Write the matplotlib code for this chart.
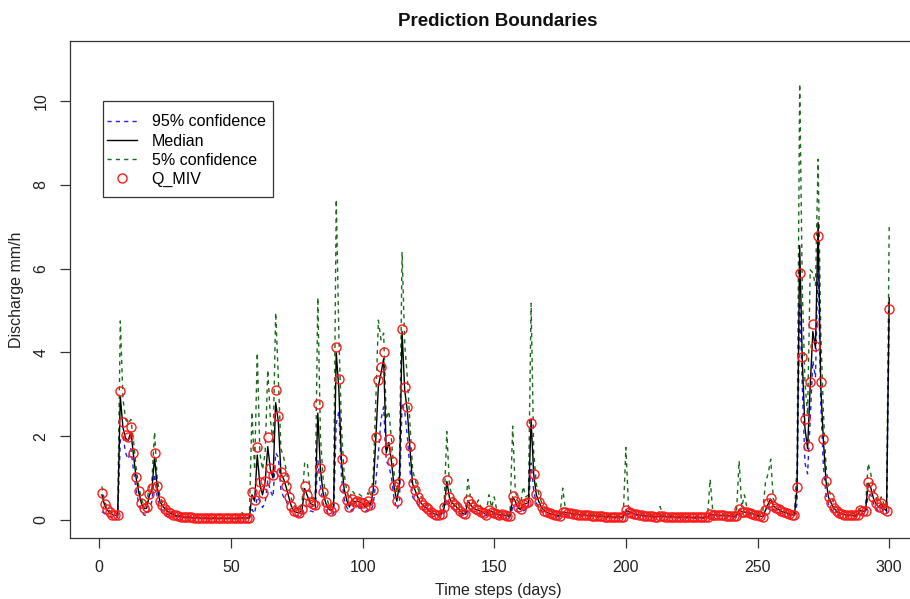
import numpy as np
import matplotlib
matplotlib.use("Agg")
import matplotlib.pyplot as plt
from matplotlib.patches import Rectangle

plt.rcParams['font.family'] = ['Liberation Sans', 'DejaVu Sans']

# observed discharge Q_MIV, days 1..300
q_miv = [
    0.65, 0.38, 0.25, 0.18, 0.13, 0.11, 0.12, 3.09, 2.35, 2.03,
    1.98, 2.21, 1.61, 1.03, 0.68, 0.41, 0.28, 0.30, 0.63, 0.77,
    1.59, 0.80, 0.46, 0.35, 0.26, 0.20, 0.16, 0.13, 0.11, 0.09,
    0.08, 0.07, 0.07, 0.06, 0.06, 0.05, 0.05, 0.05, 0.05, 0.04,
    0.04, 0.04, 0.04, 0.04, 0.04, 0.04, 0.04, 0.04, 0.04, 0.04,
    0.04, 0.04, 0.04, 0.05, 0.05, 0.05, 0.04, 0.66, 0.48, 1.73,
    0.91, 0.64, 0.93, 1.99, 1.25, 1.07, 3.10, 2.47, 1.14, 1.02,
    0.80, 0.56, 0.33, 0.22, 0.18, 0.17, 0.25, 0.80, 0.60, 0.42,
    0.37, 0.35, 2.77, 1.23, 0.67, 0.42, 0.27, 0.22, 0.32, 4.12,
    3.36, 1.45, 0.76, 0.48, 0.31, 0.50, 0.44, 0.46, 0.44, 0.40,
    0.31, 0.46, 0.36, 0.71, 1.99, 3.34, 3.64, 4.02, 1.67, 1.93,
    1.41, 0.80, 0.46, 0.88, 4.55, 3.18, 2.70, 1.77, 0.88, 0.72,
    0.55, 0.43, 0.36, 0.30, 0.25, 0.18, 0.15, 0.13, 0.12, 0.14,
    0.30, 0.95, 0.54, 0.42, 0.36, 0.30, 0.22, 0.16, 0.14, 0.48,
    0.37, 0.30, 0.25, 0.24, 0.20, 0.17, 0.13, 0.24, 0.20, 0.17,
    0.14, 0.12, 0.14, 0.11, 0.10, 0.09, 0.58, 0.46, 0.30, 0.25,
    0.38, 0.40, 0.42, 2.32, 1.10, 0.61, 0.44, 0.30, 0.22, 0.18,
    0.16, 0.14, 0.12, 0.11, 0.10, 0.20, 0.18, 0.17, 0.16, 0.15,
    0.14, 0.13, 0.12, 0.12, 0.11, 0.11, 0.10, 0.10, 0.09, 0.09,
    0.09, 0.08, 0.08, 0.08, 0.07, 0.07, 0.07, 0.07, 0.07, 0.23,
    0.20, 0.17, 0.15, 0.14, 0.12, 0.11, 0.10, 0.10, 0.09, 0.09,
    0.08, 0.08, 0.10, 0.09, 0.08, 0.08, 0.08, 0.07, 0.07, 0.07,
    0.07, 0.07, 0.07, 0.06, 0.06, 0.06, 0.06, 0.06, 0.06, 0.06,
    0.06, 0.14, 0.13, 0.12, 0.12, 0.11, 0.11, 0.10, 0.10, 0.09,
    0.09, 0.10, 0.25, 0.20, 0.19, 0.18, 0.17, 0.15, 0.13, 0.11,
    0.09, 0.08, 0.24, 0.40, 0.52, 0.34, 0.28, 0.25, 0.21, 0.19,
    0.17, 0.15, 0.13, 0.11, 0.78, 5.89, 3.88, 2.40, 1.77, 3.30,
    4.67, 4.15, 6.78, 3.30, 1.93, 0.94, 0.54, 0.40, 0.28, 0.21,
    0.17, 0.15, 0.13, 0.12, 0.12, 0.11, 0.11, 0.12, 0.24, 0.21,
    0.21, 0.91, 0.79, 0.54, 0.40, 0.30, 0.41, 0.27, 0.22, 5.03,
]

# simulated median
median = [
    0.60, 0.36, 0.24, 0.17, 0.13, 0.11, 0.12, 2.95, 2.20, 1.95,
    1.90, 2.10, 1.55, 1.00, 0.66, 0.40, 0.27, 0.28, 0.58, 0.72,
    1.50, 0.78, 0.45, 0.34, 0.26, 0.20, 0.16, 0.13, 0.11, 0.09,
    0.08, 0.07, 0.07, 0.06, 0.06, 0.05, 0.05, 0.05, 0.05, 0.04,
    0.04, 0.04, 0.04, 0.04, 0.04, 0.04, 0.04, 0.04, 0.04, 0.04,
    0.04, 0.04, 0.04, 0.05, 0.05, 0.05, 0.04, 0.60, 0.45, 1.55,
    0.85, 0.60, 0.90, 1.75, 1.20, 1.00, 2.80, 2.35, 1.10, 0.98,
    0.78, 0.54, 0.32, 0.21, 0.18, 0.17, 0.24, 0.75, 0.58, 0.41,
    0.36, 0.34, 2.55, 1.20, 0.65, 0.41, 0.27, 0.22, 0.31, 4.00,
    3.10, 1.40, 0.74, 0.47, 0.31, 0.48, 0.43, 0.45, 0.43, 0.39,
    0.31, 0.45, 0.35, 0.68, 1.90, 3.20, 3.50, 3.85, 1.60, 1.85,
    1.38, 0.78, 0.45, 0.85, 4.50, 3.10, 2.60, 1.70, 0.86, 0.70,
    0.54, 0.42, 0.35, 0.30, 0.25, 0.18, 0.15, 0.13, 0.12, 0.14,
    0.29, 0.92, 0.53, 0.41, 0.35, 0.29, 0.22, 0.16, 0.14, 0.46,
    0.36, 0.29, 0.25, 0.23, 0.20, 0.17, 0.13, 0.23, 0.20, 0.17,
    0.14, 0.12, 0.14, 0.11, 0.10, 0.09, 0.55, 0.45, 0.29, 0.25,
    0.37, 0.39, 0.41, 2.40, 1.08, 0.60, 0.43, 0.30, 0.22, 0.18,
    0.16, 0.14, 0.12, 0.11, 0.10, 0.19, 0.18, 0.17, 0.16, 0.15,
    0.14, 0.13, 0.12, 0.12, 0.11, 0.11, 0.10, 0.10, 0.09, 0.09,
    0.09, 0.08, 0.08, 0.08, 0.07, 0.07, 0.07, 0.07, 0.07, 0.22,
    0.20, 0.17, 0.15, 0.14, 0.12, 0.11, 0.10, 0.10, 0.09, 0.09,
    0.08, 0.08, 0.10, 0.09, 0.08, 0.08, 0.08, 0.07, 0.07, 0.07,
    0.07, 0.07, 0.07, 0.06, 0.06, 0.06, 0.06, 0.06, 0.06, 0.06,
    0.06, 0.14, 0.13, 0.12, 0.12, 0.11, 0.11, 0.10, 0.10, 0.09,
    0.09, 0.10, 0.24, 0.20, 0.19, 0.18, 0.17, 0.15, 0.13, 0.11,
    0.09, 0.08, 0.23, 0.38, 0.50, 0.34, 0.28, 0.25, 0.21, 0.19,
    0.17, 0.15, 0.13, 0.11, 0.75, 6.55, 3.80, 2.20, 1.70, 3.20,
    4.50, 4.10, 7.10, 3.20, 1.90, 0.92, 0.53, 0.40, 0.28, 0.21,
    0.17, 0.15, 0.13, 0.12, 0.12, 0.11, 0.11, 0.12, 0.23, 0.21,
    0.21, 0.88, 0.77, 0.52, 0.39, 0.30, 0.40, 0.27, 0.22, 5.30,
]

# 95% confidence bound (blue)
conf95 = [
    0.20, 0.15, 0.10, 0.08, 0.06, 0.05, 0.06, 1.90, 2.00, 1.60,
    1.45, 1.70, 1.20, 0.70, 0.40, 0.22, 0.12, 0.10, 0.25, 0.45,
    1.10, 0.55, 0.30, 0.22, 0.17, 0.13, 0.11, 0.09, 0.08, 0.07,
    0.06, 0.06, 0.05, 0.05, 0.05, 0.04, 0.04, 0.04, 0.04, 0.03,
    0.03, 0.03, 0.03, 0.03, 0.03, 0.03, 0.03, 0.03, 0.03, 0.03,
    0.03, 0.03, 0.03, 0.04, 0.04, 0.04, 0.03, 0.25, 0.15, 0.55,
    0.45, 0.30, 0.40, 0.95, 0.70, 0.55, 1.60, 1.50, 0.70, 0.55,
    0.45, 0.30, 0.18, 0.12, 0.10, 0.10, 0.12, 0.35, 0.30, 0.22,
    0.20, 0.18, 1.43, 0.80, 0.40, 0.25, 0.16, 0.13, 0.15, 2.30,
    2.60, 1.00, 0.50, 0.30, 0.20, 0.25, 0.28, 0.30, 0.28, 0.26,
    0.20, 0.25, 0.22, 0.35, 0.90, 1.60, 2.40, 2.70, 1.40, 1.30,
    1.00, 0.50, 0.25, 0.40, 2.80, 2.60, 2.00, 1.20, 0.55, 0.45,
    0.38, 0.30, 0.25, 0.20, 0.17, 0.13, 0.11, 0.10, 0.09, 0.10,
    0.15, 0.50, 0.38, 0.30, 0.25, 0.20, 0.15, 0.12, 0.10, 0.28,
    0.25, 0.20, 0.17, 0.16, 0.14, 0.12, 0.10, 0.15, 0.14, 0.12,
    0.10, 0.09, 0.10, 0.08, 0.07, 0.07, 0.30, 0.30, 0.20, 0.18,
    0.22, 0.25, 0.27, 1.36, 0.70, 0.40, 0.30, 0.22, 0.16, 0.13,
    0.12, 0.10, 0.09, 0.08, 0.08, 0.14, 0.13, 0.12, 0.12, 0.11,
    0.10, 0.10, 0.09, 0.09, 0.08, 0.08, 0.08, 0.07, 0.07, 0.07,
    0.07, 0.06, 0.06, 0.06, 0.06, 0.05, 0.05, 0.05, 0.05, 0.16,
    0.15, 0.13, 0.12, 0.11, 0.10, 0.09, 0.08, 0.08, 0.07, 0.07,
    0.06, 0.06, 0.07, 0.07, 0.06, 0.06, 0.06, 0.05, 0.05, 0.05,
    0.05, 0.05, 0.05, 0.05, 0.04, 0.04, 0.04, 0.04, 0.04, 0.04,
    0.04, 0.10, 0.10, 0.09, 0.09, 0.08, 0.08, 0.08, 0.07, 0.07,
    0.07, 0.07, 0.16, 0.15, 0.14, 0.13, 0.12, 0.11, 0.10, 0.08,
    0.07, 0.06, 0.15, 0.26, 0.35, 0.25, 0.20, 0.18, 0.16, 0.14,
    0.13, 0.11, 0.10, 0.08, 0.40, 5.20, 3.20, 1.36, 1.10, 2.40,
    3.80, 3.40, 6.20, 2.80, 1.30, 0.60, 0.35, 0.25, 0.18, 0.14,
    0.12, 0.11, 0.10, 0.09, 0.09, 0.08, 0.08, 0.09, 0.15, 0.14,
    0.14, 0.60, 0.60, 0.40, 0.28, 0.20, 0.30, 0.18, 0.15, 4.80,
]

# 5% confidence bound (green)
conf5 = [
    0.80, 0.45, 0.30, 0.22, 0.16, 0.14, 0.15, 4.75, 2.90, 2.40,
    2.30, 2.40, 1.90, 1.25, 0.80, 0.50, 0.35, 0.40, 0.80, 0.95,
    2.10, 1.00, 0.58, 0.42, 0.32, 0.25, 0.20, 0.16, 0.14, 0.12,
    0.10, 0.09, 0.09, 0.08, 0.08, 0.07, 0.07, 0.07, 0.07, 0.07,
    0.06, 0.06, 0.06, 0.06, 0.06, 0.06, 0.06, 0.06, 0.06, 0.06,
    0.06, 0.06, 0.07, 0.20, 0.10, 0.08, 0.07, 2.58, 1.20, 3.99,
    1.60, 1.20, 1.60, 3.58, 2.40, 1.80, 4.95, 3.40, 1.70, 1.50,
    1.20, 0.80, 0.50, 0.35, 0.28, 0.25, 0.40, 1.37, 1.37, 0.70,
    0.55, 0.50, 5.31, 2.00, 1.00, 0.60, 0.40, 0.32, 0.45, 7.65,
    4.40, 2.20, 1.10, 0.70, 0.50, 0.70, 0.62, 0.65, 0.60, 0.55,
    0.45, 0.65, 0.55, 1.00, 2.80, 4.77, 4.30, 4.46, 2.40, 2.60,
    1.90, 1.10, 0.65, 1.20, 6.40, 4.20, 3.40, 2.30, 1.20, 0.95,
    0.75, 0.58, 0.48, 0.40, 0.33, 0.25, 0.20, 0.18, 0.16, 0.20,
    0.45, 2.11, 0.80, 0.58, 0.48, 0.40, 0.30, 0.22, 0.20, 0.97,
    0.52, 0.42, 0.35, 0.48, 0.30, 0.24, 0.19, 0.60, 0.30, 0.55,
    0.22, 0.18, 0.20, 0.16, 0.14, 0.13, 2.24, 0.70, 0.45, 0.38,
    0.80, 0.55, 0.60, 5.17, 1.60, 0.85, 0.60, 0.42, 0.30, 0.25,
    0.22, 0.19, 0.17, 0.15, 0.14, 0.76, 0.26, 0.24, 0.22, 0.21,
    0.19, 0.18, 0.17, 0.16, 0.15, 0.15, 0.14, 0.14, 0.13, 0.13,
    0.12, 0.12, 0.11, 0.11, 0.10, 0.10, 0.10, 0.10, 0.10, 1.73,
    0.30, 0.24, 0.21, 0.19, 0.17, 0.15, 0.14, 0.14, 0.13, 0.12,
    0.11, 0.11, 0.32, 0.13, 0.11, 0.11, 0.10, 0.10, 0.10, 0.10,
    0.10, 0.10, 0.09, 0.09, 0.09, 0.09, 0.09, 0.09, 0.09, 0.09,
    0.09, 0.97, 0.20, 0.17, 0.16, 0.15, 0.15, 0.14, 0.14, 0.13,
    0.13, 0.20, 1.41, 0.30, 0.60, 0.28, 0.25, 0.22, 0.18, 0.15,
    0.13, 0.20, 0.90, 1.10, 1.45, 0.50, 0.40, 0.36, 0.30, 0.27,
    0.24, 0.21, 0.19, 0.16, 1.30, 10.41, 5.50, 3.30, 2.50, 5.97,
    5.90, 5.60, 8.61, 4.50, 2.60, 1.30, 0.75, 0.55, 0.40, 0.30,
    0.25, 0.22, 0.19, 0.17, 0.17, 0.16, 0.16, 0.18, 0.35, 0.30,
    0.30, 1.35, 1.10, 0.75, 0.55, 0.42, 0.55, 0.38, 0.30, 7.02,
]

days = np.arange(1, len(q_miv) + 1)

W, H = 910, 599
fig = plt.figure(figsize=(W / 100, H / 100), dpi=100)
# plot box runs past the right edge of the picture, as in the original
ax_l, ax_r, ax_t, ax_b = 70.4, 920.7, 40.7, 538.4
ax = fig.add_axes([ax_l / W, 1 - ax_b / H, (ax_r - ax_l) / W, (ax_b - ax_t) / H])

ax.plot(days, conf5, color='#1a6b1a', linestyle=(0, (3, 3)), lw=1.0,
        label='5% confidence', zorder=2)
ax.plot(days, conf95, color='#2222ee', linestyle=(0, (3, 3)), lw=1.0,
        label='95% confidence', zorder=3)
ax.plot(days, median, color='black', lw=1.0, label='Median', zorder=4)
ax.plot(days, q_miv, linestyle='none', marker='o', markersize=6.5,
        markerfacecolor='none', markeredgecolor='#ff1a1a', markeredgewidth=1.0,
        label='Q_MIV', zorder=5)

ax.set_xlim(-10.96, 311.96)
ax.set_ylim(-0.44, 11.44)
ax.set_xticks([0, 50, 100, 150, 200, 250, 300])
ax.set_yticks([0, 2, 4, 6, 8, 10])
ax.tick_params(direction='out', length=7.2, width=0.9, labelsize=11.5,
               color='#333333', labelcolor='#222222', pad=8.5)
for lab in ax.get_yticklabels():
    lab.set_rotation(90)
    lab.set_va('center')
for sp in ax.spines.values():
    sp.set_linewidth(0.9)
    sp.set_color('#333333')

ax.set_xlabel('Time steps (days)', fontsize=11.5, color='#222222')
ax.xaxis.set_label_coords((498 - ax_l) / (ax_r - ax_l), -(583 - ax_b) / (ax_b - ax_t))
ax.set_ylabel('Discharge mm/h', fontsize=11.5, color='#222222')
ax.yaxis.set_label_coords((24 - ax_l) / (ax_r - ax_l), 0.5)

fig.text(498 / W, 1 - 22 / H, 'Prediction Boundaries', ha='center',
         va='center', fontsize=13.5, fontweight='bold', color='#111111')

# legend box drawn separately so its padding can match the original
box = Rectangle((103 / W, 1 - 197 / H), 170 / W, 96 / H, transform=fig.transFigure,
                facecolor='white', edgecolor='#333333', linewidth=0.9,
                zorder=8, clip_on=False)
ax.add_patch(box)

handles, labels = ax.get_legend_handles_labels()
order = [1, 2, 0, 3]
leg = ax.legend([handles[i] for i in order], [labels[i] for i in order],
                loc='upper left', bbox_to_anchor=(107 / W, 1 - 114.5 / H),
                bbox_transform=fig.transFigure, borderaxespad=0,
                fontsize=11.5, frameon=False,
                handlelength=1.9, handletextpad=0.9, labelspacing=0.26,
                borderpad=0)
leg.set_zorder(10)

fig.savefig('out.png', dpi=100)
